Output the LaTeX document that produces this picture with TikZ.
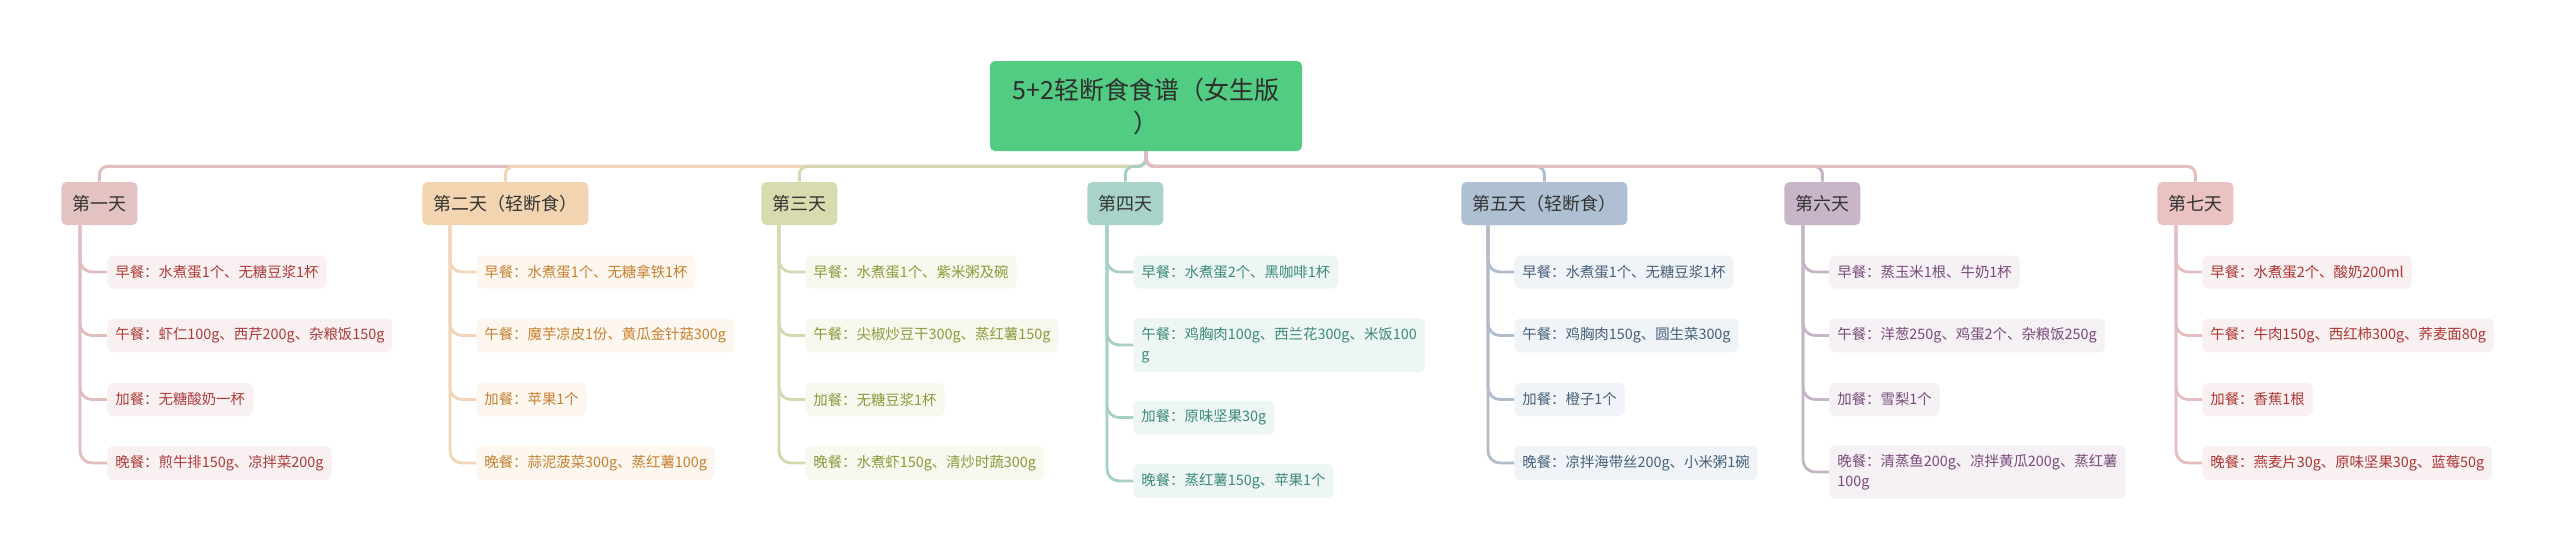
\documentclass[tikz,border=0pt]{standalone}
\usepackage{fontspec}
\setmainfont{Noto Sans CJK SC}
\definecolor{rootbg}{HTML}{52CC82}
\definecolor{roottx}{HTML}{2E2E2E}
\definecolor{daytx}{HTML}{333333}
\definecolor{onebox}{HTML}{E3C2C2}\definecolor{onetx}{HTML}{AF3B3B}\definecolor{onebg}{HTML}{F9F1F1}\definecolor{oneline}{HTML}{DFBEBE}
\definecolor{twobox}{HTML}{F2D4B0}\definecolor{twotx}{HTML}{C88030}\definecolor{twobg}{HTML}{FDF7F0}\definecolor{twoline}{HTML}{F0D6B6}
\definecolor{threebox}{HTML}{D8DBAE}\definecolor{threetx}{HTML}{8C9A3C}\definecolor{threebg}{HTML}{F7F8EE}\definecolor{threeline}{HTML}{D6D8B0}
\definecolor{fourbox}{HTML}{A8D3C8}\definecolor{fourtx}{HTML}{3C8A7C}\definecolor{fourbg}{HTML}{EEF6F4}\definecolor{fourline}{HTML}{A6D0C6}
\definecolor{fivebox}{HTML}{AFC0D2}\definecolor{fivetx}{HTML}{48607A}\definecolor{fivebg}{HTML}{F0F3F7}\definecolor{fiveline}{HTML}{B0BCCA}
\definecolor{sixbox}{HTML}{C8B6C8}\definecolor{sixtx}{HTML}{7A4C7A}\definecolor{sixbg}{HTML}{F5F1F5}\definecolor{sixline}{HTML}{C4B6C4}
\definecolor{sevenbox}{HTML}{EAC2C2}\definecolor{seventx}{HTML}{B03434}\definecolor{sevenbg}{HTML}{F9F1F1}\definecolor{sevenline}{HTML}{E4BEBE}
\begin{document}
\begin{tikzpicture}[x=0.5pt,y=-0.5pt,
  root/.style={fill=rootbg,rounded corners=2.5pt,minimum width=156pt,minimum height=45pt,align=center,text=roottx,font=\fontsize{12.5}{16.5}\selectfont},
  day/.style={fill=#1box,rounded corners=2.5pt,minimum height=21.5pt,inner xsep=5.5pt,text=daytx,anchor=west,font=\fontsize{9}{11}\selectfont},
  leaf/.style={fill=#1bg,text=#1tx,rounded corners=3pt,minimum height=16.5pt,inner xsep=4pt,inner ysep=4.5pt,anchor=west,align=left,font=\fontsize{7.2}{10}\selectfont},
  link/.style={draw=#1line,line width=1.5pt,rounded corners=4pt},
  twig/.style={draw=#1line,line width=1.4pt,rounded corners=6pt}]
  \fill[white] (0,0) rectangle (2560,559);
  \useasboundingbox (0,0) rectangle (2560,559);
  \node (root) at (1146,106) [root] {5+2轻断食食谱（女生版\\）};
  % days
  \node (d1) at (61,203.5) [day=one] {第一天};
  \node (d2) at (422,203.5) [day=two] {第二天（轻断食）};
  \node (d3) at (761,203.5) [day=three] {第三天};
  \node (d4) at (1087,203.5) [day=four] {第四天};
  \node (d5) at (1461,203.5) [day=five] {第五天（轻断食）};
  \node (d6) at (1784,203.5) [day=six] {第六天};
  \node (d7) at (2157,203.5) [day=seven] {第七天};
  % meals
  \node (l11) at (107,272) [leaf=one] {早餐：水煮蛋1个、无糖豆浆1杯};
  \node (l12) at (107,335.5) [leaf=one] {午餐：虾仁100g、西芹200g、杂粮饭150g};
  \node (l13) at (107,399.5) [leaf=one] {加餐：无糖酸奶一杯};
  \node (l14) at (107,463) [leaf=one] {晚餐：煎牛排150g、凉拌菜200g};
  \node (l21) at (476,272) [leaf=two] {早餐：水煮蛋1个、无糖拿铁1杯};
  \node (l22) at (476,335.5) [leaf=two] {午餐：魔芋凉皮1份、黄瓜金针菇300g};
  \node (l23) at (476,399.5) [leaf=two] {加餐：苹果1个};
  \node (l24) at (476,463) [leaf=two] {晚餐：蒜泥菠菜300g、蒸红薯100g};
  \node (l31) at (805,272) [leaf=three] {早餐：水煮蛋1个、紫米粥及碗};
  \node (l32) at (805,335.5) [leaf=three] {午餐：尖椒炒豆干300g、蒸红薯150g};
  \node (l33) at (805,399.5) [leaf=three] {加餐：无糖豆浆1杯};
  \node (l34) at (805,463) [leaf=three] {晚餐：水煮虾150g、清炒时蔬300g};
  \node (l41) at (1133,272) [leaf=four] {早餐：水煮蛋2个、黑咖啡1杯};
  \node (l42) at (1133,345) [leaf=four] {午餐：鸡胸肉100g、西兰花300g、米饭100\\g};
  \node (l43) at (1133,417.5) [leaf=four] {加餐：原味坚果30g};
  \node (l44) at (1133,481) [leaf=four] {晚餐：蒸红薯150g、苹果1个};
  \node (l51) at (1514,272) [leaf=five] {早餐：水煮蛋1个、无糖豆浆1杯};
  \node (l52) at (1514,335.5) [leaf=five] {午餐：鸡胸肉150g、圆生菜300g};
  \node (l53) at (1514,399.5) [leaf=five] {加餐：橙子1个};
  \node (l54) at (1514,463) [leaf=five] {晚餐：凉拌海带丝200g、小米粥1碗};
  \node (l61) at (1829,272) [leaf=six] {早餐：蒸玉米1根、牛奶1杯};
  \node (l62) at (1829,335.5) [leaf=six] {午餐：洋葱250g、鸡蛋2个、杂粮饭250g};
  \node (l63) at (1829,399.5) [leaf=six] {加餐：雪梨1个};
  \node (l64) at (1829,472) [leaf=six] {晚餐：清蒸鱼200g、凉拌黄瓜200g、蒸红薯\\100g};
  \node (l71) at (2202,272) [leaf=seven] {早餐：水煮蛋2个、酸奶200ml};
  \node (l72) at (2202,335.5) [leaf=seven] {午餐：牛肉150g、西红柿300g、荞麦面80g};
  \node (l73) at (2202,399.5) [leaf=seven] {加餐：香蕉1根};
  \node (l74) at (2202,463) [leaf=seven] {晚餐：燕麦片30g、原味坚果30g、蓝莓50g};
  % root to days
  \draw [link=one] (root.south) -- ++(0,15) -| (d1.north);
  \draw [link=two] (root.south) -- ++(0,15) -| (d2.north);
  \draw [link=three] (root.south) -- ++(0,15) -| (d3.north);
  \draw [link=four] (root.south) -- ++(0,15) -| (d4.north);
  \draw [link=five] (root.south) -- ++(0,15) -| (d5.north);
  \draw [link=six] (root.south) -- ++(0,15) -| (d6.north);
  \draw [link=seven] (root.south) -- ++(0,15) -| (d7.north);
  % days to meals
  \draw [twig=one] (d1.south west) ++(19,0) |- (l11.west);
  \draw [twig=one] (d1.south west) ++(19,0) |- (l12.west);
  \draw [twig=one] (d1.south west) ++(19,0) |- (l13.west);
  \draw [twig=one] (d1.south west) ++(19,0) |- (l14.west);
  \draw [twig=two] (d2.south west) ++(28,0) |- (l21.west);
  \draw [twig=two] (d2.south west) ++(28,0) |- (l22.west);
  \draw [twig=two] (d2.south west) ++(28,0) |- (l23.west);
  \draw [twig=two] (d2.south west) ++(28,0) |- (l24.west);
  \draw [twig=three] (d3.south west) ++(18,0) |- (l31.west);
  \draw [twig=three] (d3.south west) ++(18,0) |- (l32.west);
  \draw [twig=three] (d3.south west) ++(18,0) |- (l33.west);
  \draw [twig=three] (d3.south west) ++(18,0) |- (l34.west);
  \draw [twig=four] (d4.south west) ++(20,0) |- (l41.west);
  \draw [twig=four] (d4.south west) ++(20,0) |- (l42.west);
  \draw [twig=four] (d4.south west) ++(20,0) |- (l43.west);
  \draw [twig=four] (d4.south west) ++(20,0) |- (l44.west);
  \draw [twig=five] (d5.south west) ++(27,0) |- (l51.west);
  \draw [twig=five] (d5.south west) ++(27,0) |- (l52.west);
  \draw [twig=five] (d5.south west) ++(27,0) |- (l53.west);
  \draw [twig=five] (d5.south west) ++(27,0) |- (l54.west);
  \draw [twig=six] (d6.south west) ++(19,0) |- (l61.west);
  \draw [twig=six] (d6.south west) ++(19,0) |- (l62.west);
  \draw [twig=six] (d6.south west) ++(19,0) |- (l63.west);
  \draw [twig=six] (d6.south west) ++(19,0) |- (l64.west);
  \draw [twig=seven] (d7.south west) ++(19,0) |- (l71.west);
  \draw [twig=seven] (d7.south west) ++(19,0) |- (l72.west);
  \draw [twig=seven] (d7.south west) ++(19,0) |- (l73.west);
  \draw [twig=seven] (d7.south west) ++(19,0) |- (l74.west);
\end{tikzpicture}
\end{document}
